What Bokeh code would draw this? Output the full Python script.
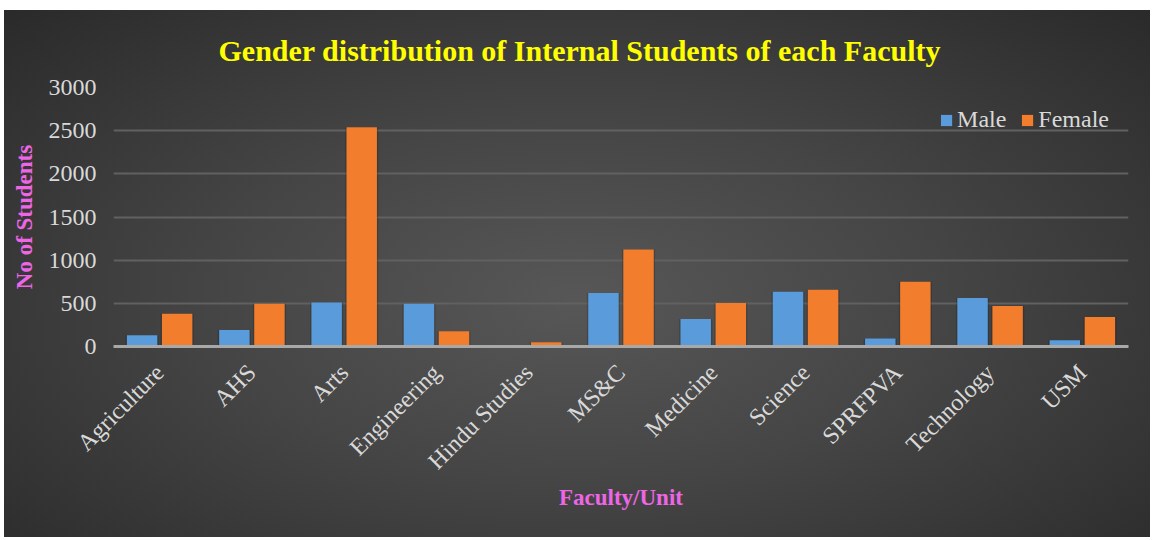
from math import pi
from bokeh.plotting import figure
from bokeh.models import ColumnDataSource, FactorRange, FixedTicker
from bokeh.transform import dodge
from bokeh.embed import file_html
from bokeh.resources import INLINE

faculties = ["Agriculture", "AHS", "Arts", "Engineering", "Hindu Studies", "MS&C",
             "Medicine", "Science", "SPRFPVA", "Technology", "USM"]
male = [130, 190, 510, 495, 6, 620, 318, 633, 94, 562, 72]
female = [378, 496, 2540, 178, 48, 1123, 504, 656, 750, 469, 342]
y_ticks = [0, 500, 1000, 1500, 2000, 2500, 3000]

title_text = "Gender distribution of Internal Students of each Faculty"
x_label = "Faculty/Unit"
y_label = "No of Students"

FONT = "Liberation Serif"
LABEL_COLOR = "#D9D9D9"
PINK = "#EE66E6"

src = ColumnDataSource(dict(fac=faculties, male=male, female=female))

p = figure(x_range=FactorRange(*faculties), y_range=(0, 3000),
           width=1146, height=527, output_backend="svg", toolbar_location=None,
           min_border_left=109, min_border_right=22, min_border_top=77, min_border_bottom=191,
           background_fill_color=None, border_fill_color=None, outline_line_color=None,
           margin=(10, 0, 0, 4),
           styles={"background": "radial-gradient(ellipse at 50% 55%, #575757 0%, #454545 45%, #2a2a2a 100%)"})

p.title.text = title_text
p.title.text_font = FONT
p.title.text_font_size = "30px"
p.title.text_font_style = "bold"
p.title.text_color = "#FFFF00"
p.title.align = "left"
p.title.offset = 105
p.title.standoff = 42

# soft shadows behind bars
p.vbar(x=dodge("fac", -0.19, range=p.x_range), top="male", width=0.36, source=src,
       fill_color="black", fill_alpha=0.16, line_color=None)
p.vbar(x=dodge("fac", 0.19, range=p.x_range), top="female", width=0.36, source=src,
       fill_color="black", fill_alpha=0.16, line_color=None)

p.vbar(x=dodge("fac", -0.19, range=p.x_range), top="male", width=0.33, source=src,
       fill_color="#5A9CDB", line_color=None, legend_label="Male")
p.vbar(x=dodge("fac", 0.19, range=p.x_range), top="female", width=0.33, source=src,
       fill_color="#F27D2C", line_color=None, legend_label="Female")

p.ygrid.grid_line_color = "#616161"
p.ygrid.grid_line_width = 2
p.xgrid.grid_line_color = None

p.yaxis.ticker = FixedTicker(ticks=y_ticks)
p.yaxis.axis_line_color = None
p.yaxis.major_tick_line_color = None
p.yaxis.minor_tick_line_color = None
p.yaxis.major_label_text_font = FONT
p.yaxis.major_label_text_font_size = "24px"
p.yaxis.major_label_text_color = LABEL_COLOR
p.yaxis.major_label_standoff = 11
p.yaxis.axis_label = y_label
p.yaxis.axis_label_text_font = FONT
p.yaxis.axis_label_text_font_size = "23px"
p.yaxis.axis_label_text_font_style = "bold"
p.yaxis.axis_label_text_color = PINK
p.yaxis.axis_label_standoff = 9

p.xaxis.axis_line_color = "#A8A8A8"
p.xaxis.axis_line_width = 3
p.xaxis.major_tick_line_color = None
p.xaxis.minor_tick_line_color = None
p.xaxis.major_label_orientation = pi / 4
p.xaxis.major_label_text_font = FONT
p.xaxis.major_label_text_font_size = "24px"
p.xaxis.major_label_text_color = LABEL_COLOR
p.xaxis.major_label_standoff = 16
p.xaxis.axis_label = x_label
p.xaxis.axis_label_text_font = FONT
p.xaxis.axis_label_text_font_size = "23px"
p.xaxis.axis_label_text_font_style = "bold"
p.xaxis.axis_label_text_color = PINK
p.xaxis.axis_label_standoff = -2

lg = p.legend[0]
lg.orientation = "horizontal"
lg.location = "top_right"
lg.background_fill_alpha = 0
lg.border_line_color = None
lg.label_text_font = FONT
lg.label_text_font_size = "24px"
lg.label_text_color = LABEL_COLOR
lg.glyph_width = 14
lg.glyph_height = 14
lg.label_standoff = 4
lg.spacing = 14
lg.margin = 19
lg.padding = 8

open("out.html", "w").write(file_html(p, INLINE))
